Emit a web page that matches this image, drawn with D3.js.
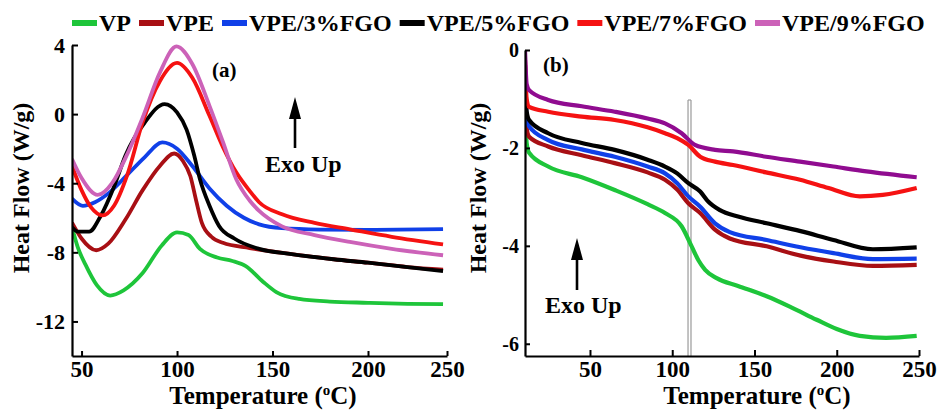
<!DOCTYPE html>
<html>
<head>
<meta charset="utf-8">
<script src="https://cdn.jsdelivr.net/npm/d3@7"></script>
<style>
  body { margin: 0; background: #fff; }
  text { font-family: "Liberation Serif", "Times New Roman", serif; font-weight: bold; fill: #000; }
</style>
</head>
<body>
<div id="chart"></div>
<script>
const width = 942, height = 410;

const seriesNames = ["VP", "VPE", "VPE/3%FGO", "VPE/5%FGO", "VPE/7%FGO", "VPE/9%FGO"];
const colorsA = ["#1ec53a", "#a80f14", "#1040e8", "#000000", "#f51212", "#cc62b8"];
const colorsB = ["#1ec53a", "#a80f14", "#1040e8", "#000000", "#f51212", "#900c90"];

const xTicksA = [50, 100, 150, 200, 250];
const yTicksA = [4, 0, -4, -8, -12];
const xTicksB = [50, 100, 150, 200, 250];
const yTicksB = [0, -2, -4, -6];

// panel (a): [temperature, heat flow]
const a_VP = [[45,-6.55],[48,-7.7],[52,-8.7],[58,-9.9],[65,-10.5],[72,-10.2],[82,-9.2],[92,-7.6],[100,-6.85],[106,-7.0],[112,-7.8],[121,-8.3],[129,-8.5],[136,-8.8],[145,-9.7],[152,-10.3],[164,-10.7],[180,-10.85],[200,-10.92],[225,-10.98],[247.5,-11.0]];
const a_VPE = [[45,-6.28],[50,-7.2],[57.7,-7.88],[64,-7.5],[73,-6.1],[82,-4.4],[91,-3.0],[98.5,-2.28],[103,-2.7],[107,-3.6],[110,-5.0],[113,-6.3],[118,-7.1],[124,-7.45],[138,-7.75],[160,-8.1],[182,-8.4],[200,-8.6],[225,-8.85],[247.5,-9.0]];
const a_3 = [[45,-4.89],[50.7,-5.31],[57,-5.1],[65,-4.5],[73.4,-3.58],[83,-2.5],[92.3,-1.64],[100,-2.0],[108,-3.0],[117,-4.3],[126,-5.3],[135,-6.0],[143,-6.38],[155,-6.6],[175,-6.68],[200,-6.7],[247.5,-6.66]];
const a_5 = [[45,-6.55],[48,-6.8],[54,-6.8],[60,-5.9],[67,-4.2],[73,-2.4],[83,-0.5],[93.5,0.58],[100,0.1],[105,-0.9],[109,-2.4],[112,-3.77],[117,-5.3],[122,-6.47],[130,-7.2],[143,-7.8],[160,-8.1],[182,-8.4],[200,-8.6],[225,-8.85],[247.5,-9.08]];
const a_7 = [[45,-3.0],[50,-4.4],[55,-5.4],[61,-5.86],[67,-5.3],[74,-3.5],[82,-0.47],[91,1.9],[100,2.96],[108,2.1],[117,-0.1],[124,-1.9],[131,-3.37],[138,-4.44],[143,-5.1],[155,-5.8],[172,-6.3],[190.5,-6.67],[215,-7.1],[247.5,-7.54]];
const a_9 = [[45,-2.6],[50,-3.7],[58.5,-4.68],[66,-4.0],[74,-2.3],[82,-0.2],[91,2.4],[99.7,3.92],[108,2.9],[117,0.48],[124,-1.6],[131,-3.77],[138,-5.0],[143,-5.6],[155,-6.5],[172,-7.0],[190.5,-7.4],[215,-7.8],[247.5,-8.17]];

// panel (b)
const b_VP = [[10.5,-1.0],[11.5,-1.9],[13,-2.1],[24.6,-2.38],[45,-2.6],[65,-2.86],[85,-3.15],[95.6,-3.33],[105.7,-3.6],[111.8,-4.01],[116,-4.3],[120,-4.49],[127,-4.66],[140,-4.82],[157.4,-5.03],[172,-5.25],[187.8,-5.51],[200,-5.7],[214,-5.84],[230,-5.88],[248.6,-5.84]];
const b_VPE = [[10.5,-0.6],[11.5,-1.6],[13,-1.77],[24.6,-1.97],[45,-2.15],[65,-2.31],[85,-2.5],[95.6,-2.65],[103,-2.85],[109.8,-3.13],[117,-3.33],[126,-3.67],[135,-3.85],[157.4,-4.01],[178,-4.2],[198,-4.32],[222,-4.41],[248.6,-4.39]];
const b_3 = [[10.5,-0.5],[11.5,-1.4],[13,-1.56],[24.6,-1.84],[45,-2.03],[65,-2.18],[85,-2.38],[95.6,-2.52],[103,-2.72],[109.8,-2.99],[117,-3.2],[126,-3.54],[135,-3.72],[157.4,-3.88],[178,-4.03],[198,-4.15],[222,-4.27],[248.6,-4.26]];
const b_5 = [[10.5,-0.3],[11.5,-1.25],[13,-1.43],[24.6,-1.7],[45,-1.9],[65,-2.04],[85,-2.24],[95.6,-2.38],[103,-2.52],[109.8,-2.72],[117,-2.89],[122,-3.1],[129,-3.27],[140,-3.4],[157.4,-3.54],[178,-3.7],[198,-3.88],[222,-4.07],[248.6,-4.03]];
const b_7 = [[10.5,-0.2],[11.5,-1.0],[13,-1.16],[24.6,-1.26],[45,-1.36],[65,-1.43],[85,-1.58],[95.6,-1.7],[103,-1.8],[109.8,-1.94],[117,-2.18],[126,-2.28],[137,-2.35],[157,-2.5],[177.7,-2.65],[195,-2.82],[214,-2.99],[228,-2.96],[248.6,-2.82]];
const b_9 = [[10.5,0],[11.5,-0.7],[13,-0.82],[24.6,-1.02],[45,-1.15],[65,-1.26],[85,-1.4],[95.6,-1.5],[105.7,-1.7],[113.8,-1.94],[126,-2.04],[137,-2.07],[157,-2.18],[177.7,-2.28],[198,-2.38],[218,-2.48],[248.6,-2.6]];

const seriesA = [a_VP, a_VPE, a_3, a_5, a_7, a_9];
const seriesB = [b_VP, b_VPE, b_3, b_5, b_7, b_9];

// glass-transition marker in (b)
const tgBand = [109.6, 111.4];

const tickFmt = (d) => String(d).replace("\u2212", "-");

const svg = d3.select("#chart").append("svg")
  .attr("width", width)
  .attr("height", height)
  .style("background", "#fff");

// legend
const legend = svg.append("g").attr("transform", "translate(72,0)");
let lx = 0;
seriesNames.forEach((name, i) => {
  legend.append("rect")
    .attr("x", lx).attr("y", 20)
    .attr("width", 25).attr("height", 6)
    .attr("fill", colorsA[i]);
  const t = legend.append("text")
    .attr("x", lx + 27).attr("y", 31)
    .style("font-size", "24px")
    .text(name);
  lx += 27 + t.node().getComputedTextLength() + 8;
});

// ---------- panel (a) ----------
const xA = d3.scaleLinear().domain([45, 200, 250]).range([72, 368, 447]);
const yA = d3.scaleLinear().domain([-14, 4]).range([356, 45]);

const gA = svg.append("g");

gA.append("clipPath").attr("id", "clipA")
  .append("rect").attr("x", 72).attr("y", 40).attr("width", 380).attr("height", 316);

const lineA = d3.line()
  .x((d) => xA(d[0]))
  .y((d) => yA(d[1]))
  .curve(d3.curveMonotoneX);

gA.append("g").attr("clip-path", "url(#clipA)")
  .selectAll("path")
  .data(seriesA)
  .enter()
  .append("path")
  .attr("d", lineA)
  .attr("fill", "none")
  .attr("stroke", (d, i) => colorsA[i])
  .attr("stroke-width", 3.8)
  .attr("stroke-linejoin", "round");

const xAxisA = gA.append("g")
  .attr("transform", "translate(0,356)")
  .call(d3.axisBottom(xA).tickValues(xTicksA).tickFormat(tickFmt).tickSizeInner(-5).tickSizeOuter(0).tickPadding(5));
const yAxisA = gA.append("g")
  .attr("transform", "translate(72,0)")
  .call(d3.axisLeft(yA).tickValues(yTicksA).tickFormat(tickFmt).tickSizeInner(-6).tickSizeOuter(0).tickPadding(7));

[xAxisA, yAxisA].forEach((ax) => {
  ax.select(".domain").attr("stroke-width", 2.2);
  ax.selectAll(".tick line").attr("stroke-width", 2);
  ax.selectAll(".tick text")
    .style("font-family", "'Liberation Serif', serif")
    .style("font-weight", "bold");
});
xAxisA.selectAll(".tick text").style("font-size", "23px");
yAxisA.selectAll(".tick text").style("font-size", "22px");

gA.append("text").attr("x", 212).attr("y", 77).style("font-size", "21px").text("(a)");

// ---------- panel (b) ----------
const xB = d3.scaleLinear().domain([10.5, 250]).range([525, 919]);
const yB = d3.scaleLinear().domain([-6.25, 0]).range([356, 50]);

const gB = svg.append("g");

gB.append("clipPath").attr("id", "clipB")
  .append("rect").attr("x", 525).attr("y", 45).attr("width", 400).attr("height", 311);

gB.selectAll("line.tg")
  .data(tgBand)
  .enter()
  .append("line")
  .attr("class", "tg")
  .attr("x1", (d) => xB(d)).attr("x2", (d) => xB(d))
  .attr("y1", 100).attr("y2", 356)
  .attr("stroke", "#9a9a9a")
  .attr("stroke-width", 1.2);
gB.append("line")
  .attr("x1", xB(tgBand[0])).attr("x2", xB(tgBand[1]))
  .attr("y1", 100).attr("y2", 100)
  .attr("stroke", "#9a9a9a").attr("stroke-width", 1.2);

const lineB = d3.line()
  .x((d) => xB(d[0]))
  .y((d) => yB(d[1]))
  .curve(d3.curveMonotoneX);

gB.append("g").attr("clip-path", "url(#clipB)")
  .selectAll("path")
  .data(seriesB)
  .enter()
  .append("path")
  .attr("d", lineB)
  .attr("fill", "none")
  .attr("stroke", (d, i) => colorsB[i])
  .attr("stroke-width", 4.2)
  .attr("stroke-linejoin", "round");

const xAxisB = gB.append("g")
  .attr("transform", "translate(0,356)")
  .call(d3.axisBottom(xB).tickValues(xTicksB).tickFormat(tickFmt).tickSizeInner(-6).tickSizeOuter(0).tickPadding(5));
const yAxisB = gB.append("g")
  .attr("transform", "translate(525,0)")
  .call(d3.axisLeft(yB).tickValues(yTicksB).tickFormat(tickFmt).tickSizeInner(-5).tickSizeOuter(0).tickPadding(6));

[xAxisB, yAxisB].forEach((ax) => {
  ax.select(".domain").attr("stroke-width", 2.2);
  ax.selectAll(".tick line").attr("stroke-width", 2);
  ax.selectAll(".tick text")
    .style("font-family", "'Liberation Serif', serif")
    .style("font-weight", "bold");
});
xAxisB.selectAll(".tick text").style("font-size", "23px");
yAxisB.selectAll(".tick text").style("font-size", "20px");

gB.append("text").attr("x", 543).attr("y", 72).style("font-size", "21px").text("(b)");

// ---------- shared labels ----------
function xTitle(cx) {
  const t = svg.append("text")
    .attr("x", cx).attr("y", 404)
    .attr("text-anchor", "middle")
    .style("font-size", "25px");
  t.append("tspan").text("Temperature (");
  t.append("tspan").attr("dy", -9).style("font-size", "15px").text("o");
  t.append("tspan").attr("dy", 9).text("C)");
}
xTitle(263);
xTitle(757);

function yTitle(cx) {
  svg.append("text")
    .attr("transform", `translate(${cx},188) rotate(-90)`)
    .attr("text-anchor", "middle")
    .style("font-size", "24px")
    .text("Heat Flow (W/g)");
}
yTitle(29);
yTitle(486);

function exoUp(x, yTop, yBottom, textX, textY) {
  svg.append("line")
    .attr("x1", x).attr("x2", x)
    .attr("y1", yBottom).attr("y2", yTop + 14)
    .attr("stroke", "#000").attr("stroke-width", 2.6);
  svg.append("path")
    .attr("d", `M${x - 6},${yTop + 22} L${x},${yTop} L${x + 6},${yTop + 22} Z`)
    .attr("fill", "#000");
  svg.append("text")
    .attr("x", textX).attr("y", textY)
    .style("font-size", "24px")
    .text("Exo Up");
}
exoUp(295, 97, 148, 265, 172);
exoUp(577, 238, 290, 545, 313);
</script>
</body>
</html>
